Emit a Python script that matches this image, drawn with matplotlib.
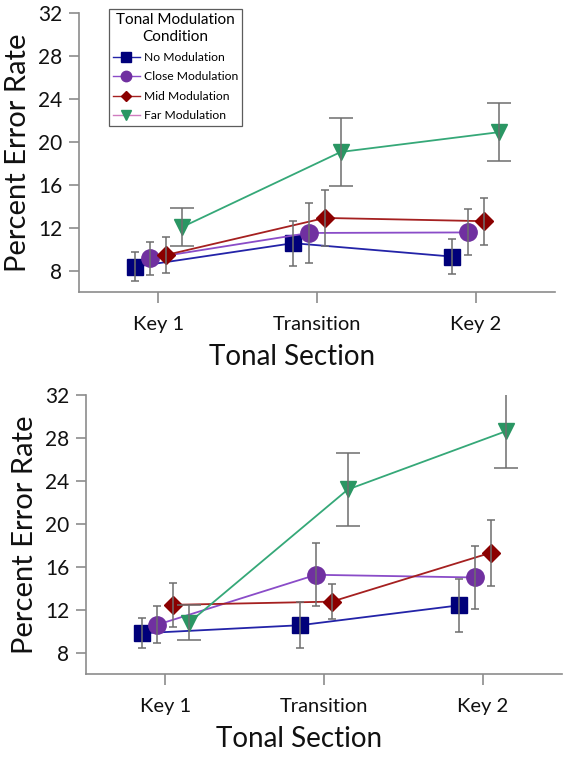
import matplotlib
matplotlib.use("Agg")
import matplotlib.pyplot as plt
from matplotlib.lines import Line2D
import numpy as np

plt.rcParams['font.family'] = ['Lato', 'DejaVu Sans']

sections = ["Key 1", "Transition", "Key 2"]
conditions = ["No Modulation", "Close Modulation", "Mid Modulation", "Far Modulation"]
yticks = [8, 12, 16, 20, 24, 28, 32]

# Top panel
top_no = [8.35, 10.55, 9.3]
top_no_err = [1.35, 2.1, 1.6]
top_close = [9.15, 11.5, 11.55]
top_close_err = [1.55, 2.8, 2.15]
top_mid = [9.45, 12.9, 12.6]
top_mid_err = [1.65, 2.6, 2.2]
top_far = [12.05, 19.05, 20.9]
top_far_err = [1.75, 3.15, 2.7]

# Bottom panel
bot_no = [9.8, 10.55, 12.4]
bot_no_err = [1.4, 2.15, 2.5]
bot_close = [10.6, 15.25, 15.0]
bot_close_err = [1.7, 2.95, 2.9]
bot_mid = [12.45, 12.75, 17.3]
bot_mid_err = [2.05, 1.65, 3.1]
bot_far = [10.8, 23.2, 28.65]
bot_far_err = [1.6, 3.4, 3.45]

offsets = [-0.15, -0.05, 0.05, 0.15]
line_colors = ['#2323a8', '#8a4cc8', '#a52020', '#35a878']
marker_colors = ['#00007a', '#7030a0', '#8b0000', '#2a9663']
markers = ['s', 'o', 'D', 'v']
msizes = [11.5, 12.5, 9.5, 12]
capsizes = [3.2, 3.2, 3.2, 8.5]
legend_line_colors = ['#2323a8', '#8a4cc8', '#a52020', '#d07cc0']

fig = plt.figure(figsize=(5.67, 7.57), dpi=100)
ax1 = fig.add_axes([0.1393, 0.6143, 0.8395, 0.3685])
ax2 = fig.add_axes([0.1517, 0.1096, 0.8395, 0.3685])

spine_c = '#8c8c8c'
x = np.arange(len(sections))

def draw(ax, series, errs):
    for i, (vals, err) in enumerate(zip(series, errs)):
        xs = x + offsets[i]
        ax.plot(xs, vals, color=line_colors[i], lw=1.3, marker=markers[i],
                ms=msizes[i], mfc=marker_colors[i], mec=marker_colors[i], zorder=3)
        ax.errorbar(xs, vals, yerr=err, fmt='none', ecolor='#6e6e6e',
                    elinewidth=1.1, capsize=capsizes[i], capthick=1.1, zorder=4)
    ax.set_xlim(-0.5, 2.5)
    ax.set_ylim(6, 32)
    ax.set_yticks(yticks)
    ax.set_xticks(x)
    ax.set_xticklabels(sections)
    for s in ['top', 'right']:
        ax.spines[s].set_visible(False)
    for s in ['left', 'bottom']:
        ax.spines[s].set_color(spine_c)
        ax.spines[s].set_linewidth(1.2)
    ax.tick_params(axis='y', length=7, width=1.2, color=spine_c, labelsize=15,
                   pad=5, labelcolor='#111111')
    ax.tick_params(axis='x', length=8, width=1.2, color=spine_c, labelsize=14.5,
                   pad=9, labelcolor='#111111')
    ax.set_ylabel("Percent Error Rate", fontsize=21, color='#111111')
    ax.set_xlabel("Tonal Section", fontsize=20, color='#111111')
    ax.yaxis.set_label_coords(-0.10, 0.5)
    ax.xaxis.set_label_coords(0.447, -0.185)

draw(ax1, [top_no, top_close, top_mid, top_far],
     [top_no_err, top_close_err, top_mid_err, top_far_err])
draw(ax2, [bot_no, bot_close, bot_mid, bot_far],
     [bot_no_err, bot_close_err, bot_mid_err, bot_far_err])

handles = [Line2D([0], [0], color=legend_line_colors[i], lw=1.0, marker=markers[i],
                  ms=[6.5, 7.5, 5.5, 7][i], mfc=marker_colors[i], mec=marker_colors[i])
           for i in range(4)]
leg = ax1.legend(handles, conditions, title="Tonal Modulation\nCondition",
                 loc='upper left', bbox_to_anchor=(0.063, 1.014), borderaxespad=0,
                 fontsize=8.7, title_fontsize=11, frameon=True, fancybox=False,
                 edgecolor='#333333', handlelength=2.2, handletextpad=0.35,
                 labelspacing=0.7, borderpad=0.35)
leg.get_frame().set_linewidth(0.9)
leg.get_title().set_multialignment('center')

fig.savefig("out.png", dpi=100)
